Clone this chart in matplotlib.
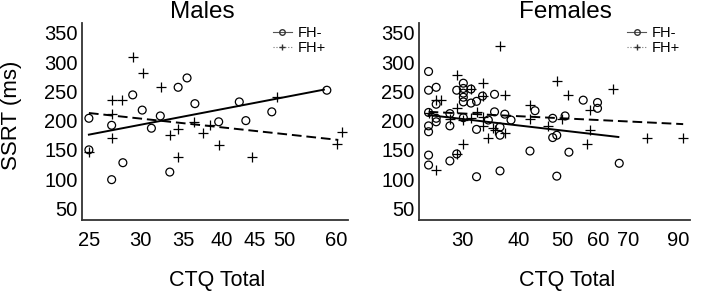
import numpy as np
import matplotlib
matplotlib.use("Agg")
import matplotlib.pyplot as plt
from matplotlib.lines import Line2D

plt.rcParams['font.family'] = ['Liberation Sans', 'DejaVu Sans']

# Males
male_neg_ctq = [25, 25, 27.1, 27.1, 28.2, 29.2, 30.2, 31.2, 32.2, 33.3, 34.3, 35.4, 36.4, 39.6, 42.6, 43.6, 47.8, 58.1]
male_neg_ssrt = [204, 150, 192, 99, 128, 244, 218, 187, 208, 112, 257, 273, 229, 198, 232, 200, 215, 252]
male_pos_ctq = [29.2, 30.3, 27.1, 28.1, 27.1, 27.1, 25, 32.3, 33.3, 34.3, 34.3, 36.3, 37.4, 38.4, 39.6, 44.6, 48.7, 61.2, 60.3]
male_pos_ssrt = [309, 282, 236, 235, 212, 171, 147, 257, 175, 185, 138, 198, 179, 192, 158, 138, 240, 180, 160]
male_fit_ctq = [25, 57.5]
male_neg_fit = [176, 253]
male_pos_fit_ctq = [25, 60.5]
male_pos_fit = [213, 167]

# Females
female_neg_ctq = [25.3, 25.3, 25.3, 25.3, 25.3, 25.3, 25.3, 26.3, 26.3, 26.3, 26.3,
                  28.2, 28.2, 28.2, 29.2, 29.2, 30.2, 30.2, 30.2, 30.2, 30.2, 30.2,
                  31.4, 31.4, 32.3, 32.3, 32.3, 33.3, 34.3, 35.4, 35.4, 36.4, 36.4, 36.4,
                  37.3, 38.5, 42.4, 43.5, 47.6, 47.6, 48.6, 48.6, 50.7, 51.7, 55.6, 59.8, 59.8, 66.8]
female_neg_ssrt = [284, 252, 214, 191, 181, 141, 124, 257, 228, 204, 198,
                   212, 191, 131, 252, 143, 264, 255, 247, 240, 232, 205,
                   254, 230, 233, 185, 104, 242, 201, 245, 215, 189, 175, 114,
                   211, 201, 148, 217, 204, 171, 175, 105, 208, 146, 235, 231, 221, 127]
female_pos_ctq = [36.4, 29.2, 33.4, 31.4, 48.6, 51.5, 64.8, 37.3, 33.3, 26.3, 27.0, 29.2, 42.4,
                  57.5, 32.3, 30.2, 31.4, 28.2, 33.4, 35.2, 37.3, 34.3, 30.2, 29.2, 26.3,
                  42.4, 46.5, 49.8, 57.5, 56.7, 77.0, 92.2, 25.3, 33.3, 35.4]
female_pos_ssrt = [328, 278, 265, 254, 267, 244, 254, 244, 242, 235, 235, 221, 226,
                   218, 215, 201, 204, 203, 191, 187, 178, 171, 160, 143, 115,
                   202, 191, 203, 184, 160, 171, 171, 213, 207, 184]
female_fit_ctq = [25.3, 66.5]
female_neg_fit = [209.5, 172]
female_pos_fit_ctq = [25.3, 92.5]
female_pos_fit = [215, 194]

yticks = [50, 100, 150, 200, 250, 300, 350]
male_xticks = [25, 30, 35, 40, 45, 50, 60]
female_xticks = [30, 40, 50, 60, 70, 90]


def draw_panel(ax, title, neg_x, neg_y, pos_x, pos_y, fx, nfit, pfx, pfit,
               xticks, xlim, title_x, xlabel_x, legend_x):
    ax.scatter(neg_x, neg_y, s=32, facecolors='none', edgecolors='black', linewidths=0.9, zorder=3)
    ax.scatter(pos_x, pos_y, s=42, marker='+', color='black', linewidths=0.9, zorder=3)
    ax.plot(fx, nfit, color='black', lw=1.4)
    ax.plot(pfx, pfit, color='black', lw=1.4, dashes=(5, 2.5))

    ax.set_xscale('log')
    ax.set_xlim(*xlim)
    ax.set_ylim(30, 367)
    ax.set_xticks(xticks)
    ax.set_xticklabels([str(t) for t in xticks])
    ax.xaxis.set_minor_locator(matplotlib.ticker.NullLocator())
    ax.set_yticks(yticks)
    ax.tick_params(length=0, labelsize=14.5, colors='black', pad=3)
    ax.tick_params(axis='x', pad=8)
    for s in ['top', 'right']:
        ax.spines[s].set_visible(False)
    for s in ['left', 'bottom']:
        ax.spines[s].set_color('#333333')
        ax.spines[s].set_linewidth(1.3)

    ax.set_title(title, fontsize=17.5, x=title_x, pad=1)
    ax.set_xlabel('CTQ Total', fontsize=15.5, va='baseline')
    ax.xaxis.set_label_coords(xlabel_x, -0.337)

    handles = [
        Line2D([], [], color='#555555', lw=0.8, marker='o', markersize=4,
               markerfacecolor='none', markeredgecolor='#333333'),
        Line2D([], [], color='#777777', lw=0.8, ls=':', marker='+', markersize=5,
               markeredgecolor='#333333'),
    ]
    ax.legend(handles, ['FH-', 'FH+'], loc='upper left', bbox_to_anchor=(legend_x, 0.985),
              frameon=False, fontsize=10.5, handlelength=1.3, handletextpad=0.4,
              labelspacing=0.1, borderaxespad=0, borderpad=0)


fig = plt.figure(figsize=(7.09, 2.91), dpi=100)
ax1 = fig.add_axes([0.1157, 0.244, 0.375, 0.677])
ax2 = fig.add_axes([0.591, 0.244, 0.382, 0.677])

draw_panel(ax1, 'Males', male_neg_ctq, male_neg_ssrt, male_pos_ctq, male_pos_ssrt,
           male_fit_ctq, male_neg_fit, male_pos_fit_ctq, male_pos_fit, male_xticks, (24.4, 62.6),
           0.451, 0.508, 0.718)
draw_panel(ax2, 'Females', female_neg_ctq, female_neg_ssrt, female_pos_ctq, female_pos_ssrt,
           female_fit_ctq, female_neg_fit, female_pos_fit_ctq, female_pos_fit, female_xticks, (24.1, 95.7),
           0.542, 0.548, 0.768)

ax1.set_ylabel('SSRT (ms)', fontsize=16, ha='center', va='center')
ax1.yaxis.set_label_coords(-0.265, 0.533)

fig.savefig('out.png', dpi=100)
